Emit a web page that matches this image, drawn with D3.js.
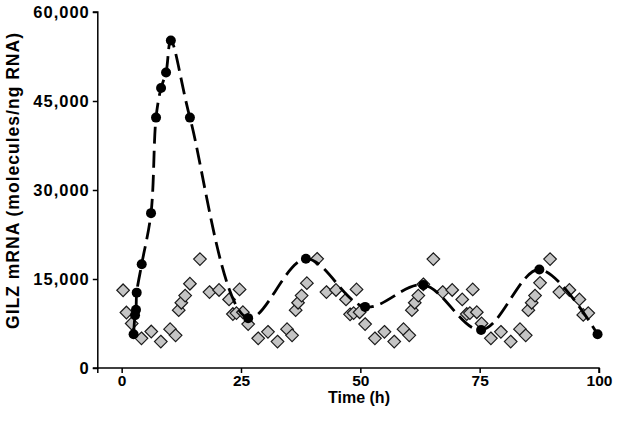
<!DOCTYPE html>
<html>
<head>
<meta charset="utf-8">
<script src="https://cdn.jsdelivr.net/npm/d3@7"></script>
<style>
  html, body { margin: 0; padding: 0; background: #fff; }
  svg { display: block; }
  text { font-family: "Liberation Sans", Arial, sans-serif; font-weight: bold; fill: #000; }
</style>
</head>
<body>
<svg id="chart" width="622" height="428"></svg>
<script>
// Model / fitted series (black circles, dashed curve)
const modelTime  = [2.5, 2.8, 3.0, 3.15, 4.2, 6.15, 7.2, 8.25, 9.3, 10.3, 14.3, 26.5, 38.6, 51.0, 63.2, 75.3, 87.5, 99.7];
const modelValue = [5700, 8900, 9800, 12700, 17500, 26100, 42200, 47200, 49800, 55200, 42200, 8400, 18400, 10300, 14000, 6400, 16600, 5700];

// Measured series (grey diamonds)
const obsTime  = [0.3, 1.0, 2.1, 4.15, 6.2, 8.2, 10.15, 11.3, 11.95, 12.5, 13.3, 14.3, 16.4, 18.4, 20.4, 22.5, 24.7, 23.3, 24.05, 25.4, 26.5,
                  28.6, 30.65, 32.65, 34.65, 35.7, 36.45, 36.95, 37.7, 38.8, 40.95, 42.9, 44.9, 47.0, 49.2, 47.85, 48.6, 49.85, 51.0,
                  53.05, 55.05, 57.1, 59.05, 60.25, 60.8, 61.4, 62.15, 63.2, 65.3, 67.25, 69.25, 71.35, 73.55, 72.3, 72.95, 74.4, 75.4,
                  77.35, 79.45, 81.5, 83.45, 84.65, 85.2, 85.9, 86.6, 87.65, 89.75, 91.7, 93.8, 95.9, 96.7, 97.75];
const obsValue = [13100, 9350, 7500, 5000, 6150, 4450, 6550, 5500, 9750, 11000, 12200, 14200, 18350, 12800, 13150, 11550, 13250, 9100, 9250, 9400, 7400,
                  5000, 6100, 4450, 6550, 5500, 9750, 11000, 12200, 14300, 18400, 12800, 13150, 11550, 13250, 9050, 9250, 9400, 7400,
                  5000, 6100, 4450, 6550, 5500, 9750, 11000, 12200, 14100, 18350, 12800, 13150, 11550, 13250, 9100, 9250, 9400, 7500,
                  5000, 6100, 4450, 6550, 5500, 9750, 11000, 12200, 14350, 18350, 12800, 13150, 11550, 8950, 9250];

const xTicks = [0, 25, 50, 75, 100];
const yTicks = [0, 15000, 30000, 45000, 60000];

const svg = d3.select("#chart");
const x = d3.scaleLinear().domain([-5, 100]).range([97.8, 599]);
const y = d3.scaleLinear().domain([0, 60000]).range([368, 12]);

// Axes
const xAxis = svg.append("g").attr("transform", `translate(0,${y(0)})`)
  .call(d3.axisBottom(x).tickValues(xTicks).tickSize(5).tickPadding(2).tickFormat(d3.format("d")));
const yAxis = svg.append("g").attr("transform", `translate(${x(-5)},0)`)
  .call(d3.axisLeft(y).tickValues(yTicks).tickSize(5).tickPadding(4).tickFormat(d3.format(",")));
[xAxis, yAxis].forEach(g => {
  g.select(".domain").attr("stroke", "#000").attr("stroke-width", 1.5);
  g.selectAll(".tick line").attr("stroke", "#000").attr("stroke-width", 1.5);
  g.selectAll(".tick text").style("font-weight", "bold")
    .style("font-family", "'Liberation Sans', Arial, sans-serif").attr("fill", "#000");
});
xAxis.selectAll(".tick text").style("font-size", "15.5px");
yAxis.selectAll(".tick text").style("font-size", "16.5px").style("letter-spacing", "1px").attr("dx", "1px");
yAxis.select(".domain").attr("d", `M-5,${y(0)}H0V${y(60000)}H-5`);
xAxis.select(".domain").attr("d", `M${x(-5)},5V0H${x(100)}V5`);

// Axis titles
svg.append("text").attr("x", 359).attr("y", 402.5)
  .attr("text-anchor", "middle").style("font-size", "16px").text("Time (h)");
svg.append("text").attr("transform", `translate(18.5,181) rotate(-90)`)
  .attr("text-anchor", "middle").style("font-size", "17.5px")
  .attr("textLength", 296).attr("lengthAdjust", "spacing")
  .text("GILZ mRNA (molecules/ng RNA)");

// Diamonds
const obs = obsTime.map((t, i) => ({ t, v: obsValue[i] }));
svg.append("g").selectAll("path").data(obs).join("path")
  .attr("d", "M0,-6.3L6.3,0L0,6.3L-6.3,0Z")
  .attr("transform", d => `translate(${x(d.t)},${y(d.v)})`)
  .attr("fill", "#c4c4c4").attr("stroke", "#1a1a1a").attr("stroke-width", 1.2);

// Dashed model curve
const model = modelTime.map((t, i) => ({ t, v: modelValue[i] }));
const line = d3.line().x(d => x(d.t)).y(d => y(d.v)).curve(d3.curveCatmullRom.alpha(0.5));
svg.append("path").datum(model).attr("d", line)
  .attr("fill", "none").attr("stroke", "#000").attr("stroke-width", 2.8)
  .attr("stroke-dasharray", "17,7");

// Model points
svg.append("g").selectAll("circle").data(model).join("circle")
  .attr("cx", d => x(d.t)).attr("cy", d => y(d.v)).attr("r", 5).attr("fill", "#000");
</script>
</body>
</html>
